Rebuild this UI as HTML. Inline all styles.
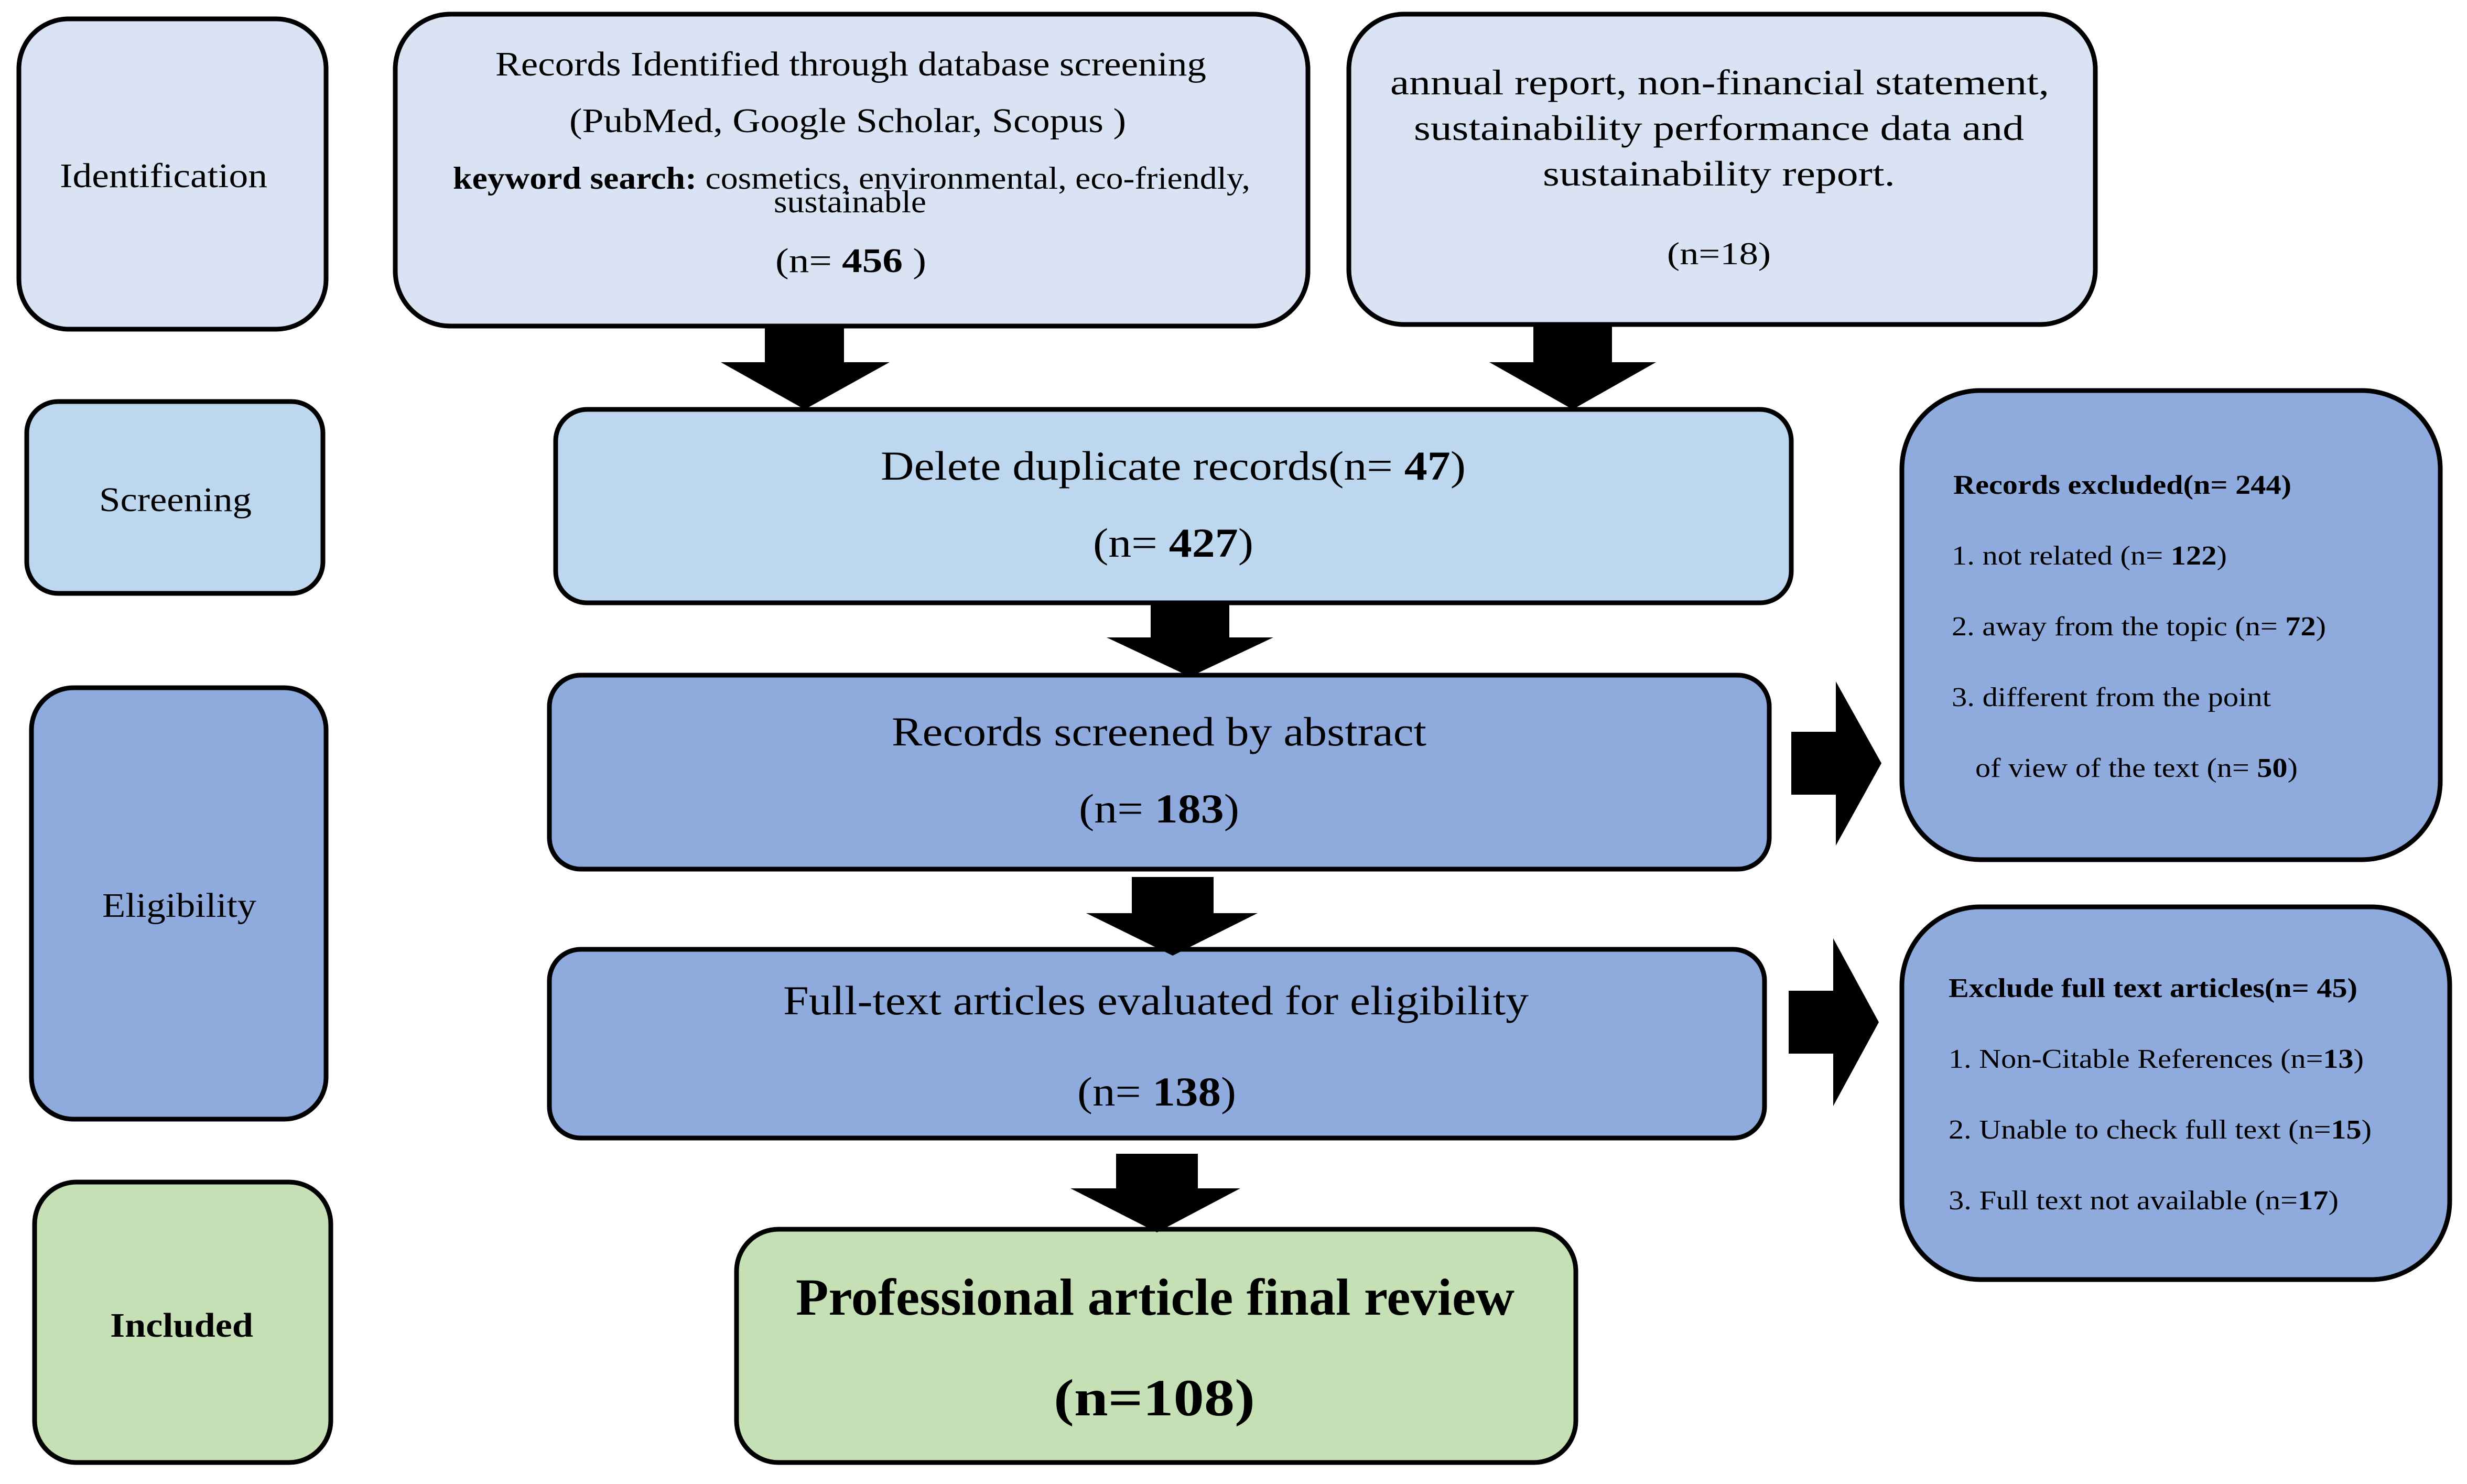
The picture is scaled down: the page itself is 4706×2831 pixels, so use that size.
<!DOCTYPE html>
<html><head><meta charset="utf-8"><style>
html,body{margin:0;padding:0;background:#fff;}
svg{display:block;}
text{font-family:"Liberation Serif","Times New Roman",serif;fill:#000;}
</style></head><body>
<svg width="4706" height="2831" viewBox="0 0 4706 2831" xmlns="http://www.w3.org/2000/svg">
<g stroke="#000" stroke-width="9">
<rect x="36" y="36" width="586" height="592" rx="95" fill="#dae3f3"/>
<rect x="754" y="27" width="1741" height="595" rx="105" fill="#dae3f3"/>
<rect x="2573" y="27" width="1424" height="592" rx="105" fill="#dae3f3"/>
<rect x="51" y="766" width="565" height="366" rx="60" fill="#bdd7ee"/>
<rect x="1060" y="781" width="2357" height="369" rx="60" fill="#bdd7ee"/>
<rect x="60" y="1312" width="562" height="823" rx="80" fill="#8faadc"/>
<rect x="1048" y="1288" width="2327" height="370" rx="60" fill="#8faadc"/>
<rect x="1048" y="1811" width="2318" height="360" rx="60" fill="#8faadc"/>
<rect x="66" y="2255" width="565" height="535" rx="80" fill="#c5e0b4"/>
<rect x="1405" y="2345" width="1601" height="445" rx="80" fill="#c5e0b4"/>
<rect x="3628" y="745" width="1027" height="895" rx="150" fill="#8faadc"/>
<rect x="3628" y="1730" width="1045" height="711" rx="150" fill="#8faadc"/>
</g>
<g fill="#000">
<polygon points="1459,622 1610,622 1610,691 1697,691 1535,781 1375,691 1459,691"/>
<polygon points="2925,622 3075,622 3075,691 3159,691 3000,781 2841,691 2925,691"/>
<polygon points="2195,1150 2345,1150 2345,1216 2429,1216 2270,1291 2111,1216 2195,1216"/>
<polygon points="2159,1673 2315,1673 2315,1742 2399,1742 2237,1823 2072,1742 2159,1742"/>
<polygon points="2129,2201 2285,2201 2285,2267 2366,2267 2207,2351 2042,2267 2129,2267"/>
<polygon points="3417,1396 3502,1396 3502,1300 3589,1456 3502,1613 3502,1516 3417,1516"/>
<polygon points="3412,1890 3497,1890 3497,1790 3584,1950 3497,2110 3497,2010 3412,2010"/>
</g>
<g lengthAdjust="spacingAndGlyphs">
<text x="114" y="357" font-size="66" textLength="396" lengthAdjust="spacingAndGlyphs">Identification</text>
<text x="945" y="144" font-size="66" textLength="1356" lengthAdjust="spacingAndGlyphs">Records Identified through database screening</text>
<text x="1086" y="252" font-size="66" textLength="1062" lengthAdjust="spacingAndGlyphs">(PubMed, Google Scholar, Scopus )</text>
<text x="864" y="360" font-size="60" textLength="1521" lengthAdjust="spacingAndGlyphs"><tspan font-weight="bold">keyword search:</tspan> cosmetics, environmental, eco-friendly,</text>
<text x="1476" y="405" font-size="60" textLength="291" lengthAdjust="spacingAndGlyphs">sustainable</text>
<text x="1479" y="519" font-size="66" textLength="288" lengthAdjust="spacingAndGlyphs">(n= <tspan font-weight="bold">456</tspan>  )</text>
<text x="2652" y="180" font-size="68" textLength="1257" lengthAdjust="spacingAndGlyphs">annual report, non-financial statement,</text>
<text x="2697" y="267" font-size="68" textLength="1164" lengthAdjust="spacingAndGlyphs">sustainability performance data and</text>
<text x="2943" y="354" font-size="68" textLength="672" lengthAdjust="spacingAndGlyphs">sustainability report.</text>
<text x="3180" y="504" font-size="60" textLength="198" lengthAdjust="spacingAndGlyphs">(n=18)</text>
<text x="189" y="975" font-size="66" textLength="291" lengthAdjust="spacingAndGlyphs">Screening</text>
<text x="1680" y="915" font-size="78" textLength="1116" lengthAdjust="spacingAndGlyphs">Delete duplicate records(n= <tspan font-weight="bold">47</tspan>)</text>
<text x="2085" y="1062" font-size="78" textLength="306" lengthAdjust="spacingAndGlyphs">(n= <tspan font-weight="bold">427</tspan>)</text>
<text x="1701" y="1422" font-size="78" textLength="1020" lengthAdjust="spacingAndGlyphs">Records screened by abstract</text>
<text x="2058" y="1569" font-size="78" textLength="306" lengthAdjust="spacingAndGlyphs">(n= <tspan font-weight="bold">183</tspan>)</text>
<text x="195" y="1749" font-size="66" textLength="294" lengthAdjust="spacingAndGlyphs">Eligibility</text>
<text x="1494" y="1935" font-size="78" textLength="1422" lengthAdjust="spacingAndGlyphs">Full-text articles evaluated for eligibility</text>
<text x="2055" y="2109" font-size="78" textLength="303" lengthAdjust="spacingAndGlyphs">(n= <tspan font-weight="bold">138</tspan>)</text>
<text x="210" y="2550" font-size="66" font-weight="bold" textLength="273" lengthAdjust="spacingAndGlyphs">Included</text>
<text x="1518" y="2508" font-size="100" font-weight="bold" textLength="1371" lengthAdjust="spacingAndGlyphs">Professional article final review</text>
<text x="2010" y="2700" font-size="100" font-weight="bold" textLength="384" lengthAdjust="spacingAndGlyphs">(n=108)</text>
<text x="3726" y="942" font-size="52" font-weight="bold" textLength="645" lengthAdjust="spacingAndGlyphs">Records excluded(n= 244)</text>
<text x="3723" y="1077" font-size="52" textLength="525" lengthAdjust="spacingAndGlyphs">1. not related (n= <tspan font-weight="bold">122</tspan>)</text>
<text x="3723" y="1212" font-size="52" textLength="714" lengthAdjust="spacingAndGlyphs">2. away from the topic (n= <tspan font-weight="bold">72</tspan>)</text>
<text x="3723" y="1347" font-size="52" textLength="609" lengthAdjust="spacingAndGlyphs">3. different from the point</text>
<text x="3768" y="1482" font-size="52" textLength="615" lengthAdjust="spacingAndGlyphs">of view of the text (n= <tspan font-weight="bold">50</tspan>)</text>
<text x="3717" y="1902" font-size="52" font-weight="bold" textLength="780" lengthAdjust="spacingAndGlyphs">Exclude full text articles(n= 45)</text>
<text x="3717" y="2037" font-size="52" textLength="792" lengthAdjust="spacingAndGlyphs">1. Non-Citable References (n=<tspan font-weight="bold">13</tspan>)</text>
<text x="3717" y="2172" font-size="52" textLength="807" lengthAdjust="spacingAndGlyphs">2. Unable to check full text (n=<tspan font-weight="bold">15</tspan>)</text>
<text x="3717" y="2307" font-size="52" textLength="744" lengthAdjust="spacingAndGlyphs">3. Full text not available (n=<tspan font-weight="bold">17</tspan>)</text>
</g>
</svg>
</body></html>
